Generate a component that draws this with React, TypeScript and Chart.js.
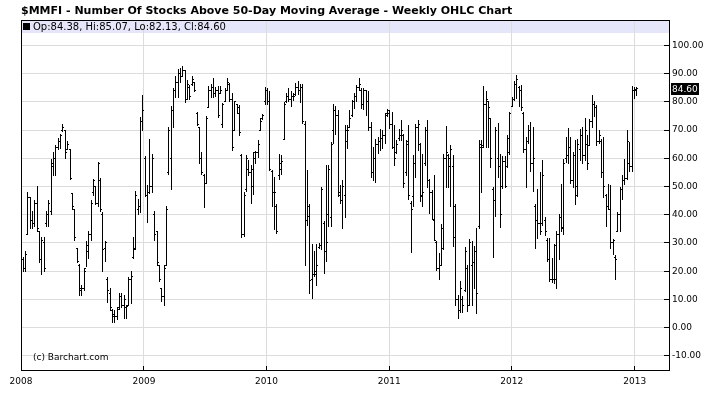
import { useEffect, useRef } from 'react';
import { Chart, registerables } from 'chart.js';

Chart.register(...registerables);

const TITLE = '$MMFI - Number Of Stocks Above 50-Day Moving Average - Weekly OHLC Chart';
const COPYRIGHT = '(c) Barchart.com';
const FIRST_WEEK = { year: 2008, month: 0, day: 7 };
const AXIS_END = { year: 2013, month: 3, day: 13 };
const yearLabels = ['2008', '2009', '2010', '2011', '2012', '2013'];
const yTickValues = [-10, 0, 10, 20, 30, 40, 50, 60, 70, 80, 90, 100];
const Y_MIN = -15;
const Y_MAX = 109;

const opens = [
  24, 21, 33, 46, 38, 37, 44, 34, 24, 30, 37, 40, 41, 58, 60, 64, 66, 70, 70, 63, 63, 47.6, 42, 28, 22, 13, 14, 21, 27, 33, 48, 50, 44,
  52, 40, 28, 17, 12, 6, 4, 4, 7, 11, 8, 7, 8, 17, 25, 28, 42, 43, 73, 60, 47, 48, 50, 40, 33.9, 22.2, 13.9, 11, 22.2, 55, 60, 77, 84, 87,
  90, 89, 91, 81, 85, 86, 87, 76, 71, 60, 54, 51, 78, 84, 85, 83, 84, 83, 72, 80, 84, 86, 81, 70, 79, 78, 61, 33, 49, 56, 55, 50, 60, 62,
  70, 74, 80, 84, 80, 55.5, 48, 43, 54, 58, 66.5, 80, 82, 81, 82, 82.5, 85, 84, 85, 72, 38, 43, 17, 19, 19, 28.5, 29, 37, 27, 40, 39, 70, 77, 75,
  47, 45, 47, 66, 71, 75, 80, 82, 85, 84, 79, 84, 80, 71, 55, 60, 65, 66, 67, 68, 76, 76, 72, 64, 62, 67, 68, 68, 55, 66, 44, 46.6, 58, 71,
  65, 47, 58, 70, 52, 48, 38, 30, 21, 22, 28, 60, 61, 57, 57, 43, 10, 6, 10, 13, 21, 8, 22, 23, 27, 36, 64, 64, 79, 80, 74, 49, 45,
  60, 57, 50, 59, 57, 62, 78.3, 81, 86, 85, 84, 76, 63, 66, 70, 58, 43, 38, 37, 37, 38, 31, 24, 17, 17, 17, 33, 39, 35, 60, 61, 64, 52, 61,
  47, 63, 68, 61, 65, 64.5, 73, 79, 78, 66, 66, 55, 47, 43, 42, 30, 25, 34, 40, 49, 52, 53, 58, 57, 84, 84.38,
];

const highs = [
  25, 27, 48, 46, 41, 45, 50, 34, 32, 32, 41, 45, 59.7, 62, 64.5, 67, 68.5, 72, 70, 66, 63, 47.6, 42, 28, 22.4, 15, 21, 30.5, 34, 45, 52.6, 50, 58.5,
  53, 40.7, 30.5, 17.7, 14, 6.5, 6, 7, 12, 12, 11.5, 8, 17.7, 19.8, 32, 48.4, 45.4, 74.3, 82.3, 60.5, 50.2, 66.6, 61.5, 41, 33.9, 22.2, 13.9, 22.2, 42.8, 71, 78.2, 84.7, 88.9, 91.5,
  91.8, 92.7, 91.2, 87.7, 85.9, 88.9, 87, 76.4, 71, 62, 54.3, 74.8, 85.3, 86, 88.3, 85, 85.3, 85.3, 79.4, 84.7, 88.1, 86.5, 82.9, 80.3, 79.1, 78.8, 61.5, 47.8, 60.9, 59.1, 57.3, 62.1, 62.4, 66.3,
  74, 75.5, 85, 84.7, 83.5, 55.8, 53.2, 43.6, 61.5, 60.9, 79.6, 83.1, 84.7, 83.5, 83, 86.5, 87.1, 86, 86, 73, 55.8, 43.6, 29.3, 27, 29.3, 29.7, 49.8, 37.7, 57.3, 57.3, 65.7, 79.1, 78.2, 77,
  50.5, 52.2, 71.6, 71.6, 76.9, 80.5, 82.9, 85.9, 88.3, 84.7, 84.7, 84.1, 83.5, 72.8, 63.9, 66.8, 67.2, 70.1, 69.8, 75.8, 77.3, 76.8, 76.4, 71.6, 66.3, 70.1, 73.4, 68.6, 66.3, 71.6, 44.8, 60.9, 72, 73.4,
  65.3, 61.3, 71, 73.4, 52.6, 48.6, 53.8, 30.5, 26.4, 36.5, 61.3, 71.2, 61.5, 64.5, 60.9, 43.6, 11.5, 16.3, 10.9, 28.4, 22.2, 31.1, 30.5, 28.8, 35, 66.3, 66.3, 85.5, 83.5, 80.3, 74, 49.8, 71,
  72.2, 61.3, 60.5, 60.5, 68, 76.4, 81.7, 87.1, 89.5, 85.3, 85.9, 76.4, 67.4, 71.6, 72.8, 71, 43.6, 49, 54.9, 59.1, 38.9, 31.7, 31.7, 24.6, 29.3, 34.1, 40.1, 50.8, 59.7, 67.4, 70.4, 67.4, 62.1, 66.3,
  66.8, 70.1, 70.8, 74, 68, 73.6, 82.3, 80.3, 78.8, 69.8, 66.8, 67.4, 47.2, 50.8, 50.5, 31.1, 25.5, 40.7, 49.6, 53.8, 59.7, 69.8, 65.7, 85.5, 85, 85.07,
];

const lows = [
  20, 20, 33, 35, 35, 36, 34, 23, 19, 20, 36, 36, 40, 54, 54, 63, 63.5, 69.5, 60, 63, 52.5, 42, 31, 23, 11.5, 11.5, 13, 21.5, 24.6, 31, 47, 43.6, 43,
  41, 19.8, 23.4, 8.9, 6, 1.7, 2, 3, 6.5, 7.3, 3.2, 3.2, 7.9, 8.5, 24.6, 27.6, 40, 40.7, 69.8, 46.6, 37.1, 47.6, 47.8, 31, 22.2, 16.3, 9.1, 7.9, 22.2, 54.3, 49, 71, 81.7, 81.7,
  87, 88.9, 79.6, 81, 80.9, 85.9, 83.5, 71.6, 58, 54.3, 42.4, 51, 77.9, 81.7, 81.7, 82, 74.3, 82.9, 70.8, 80, 84, 80, 62.9, 70, 75.8, 68, 32, 32.3, 48.4, 53.8, 43.9, 47.2, 58.2, 60.3,
  69.8, 73.6, 79.1, 79, 55.8, 43, 34.7, 33.5, 52.6, 54.1, 66.5, 79.9, 80, 78.3, 80.5, 82.3, 82.7, 79.9, 72.2, 22, 36.3, 12.1, 10.3, 18, 15, 28.2, 27.6, 19.2, 23.4, 35.9, 35.9, 65.3, 68.6, 46.3,
  43.9, 35.1, 39.2, 63.6, 70.8, 74.8, 77.6, 80, 83.9, 77.6, 77.3, 75.2, 69.8, 53.2, 52.2, 51.4, 61.7, 62.9, 63.3, 65.1, 74.8, 70.4, 63.6, 57.3, 61.7, 66.3, 66.3, 49.8, 53.8, 45.4, 26.7, 43, 53.2, 62.7,
  44.8, 43, 57.3, 49.6, 40.3, 38.3, 30.8, 20.1, 16.9, 22, 27.6, 49.6, 49.8, 43, 28.7, 7.9, 3.4, 5.3, 5.5, 12.7, 5.8, 8, 7.9, 13.9, 4.9, 35.3, 47.8, 63.9, 63.9, 63.9, 56.7, 24.8, 39.5,
  53.2, 35.5, 49.3, 49.6, 56.7, 61.3, 78.3, 80.5, 81.1, 78.2, 77, 62.1, 49.6, 65.1, 55.5, 48.4, 27.9, 31.7, 32.9, 36.3, 32.7, 23.4, 16.3, 16, 15.7, 13.9, 24, 34.1, 33.1, 58.5, 58.2, 51, 49.6, 43.6,
  46.6, 59.1, 58.2, 59.1, 56.1, 64.5, 71, 74.8, 64.5, 65.1, 53.2, 46, 35.9, 41.8, 28.2, 25.8, 16.9, 34.1, 34.1, 45.4, 50.8, 52.6, 55.5, 55.5, 81.1, 82.13,
];

const closes = [
  21, 26, 46, 38, 37, 44, 35, 24, 31, 21, 40, 44, 57, 60, 64, 66, 68, 71, 62, 65, 53, 43, 32, 23.5, 14, 14, 20, 29, 33, 44, 52, 44, 58,
  42, 27.6, 30, 13.3, 7, 4.6, 4, 6.5, 11, 8, 10, 7.5, 17, 18, 27.6, 47, 43, 73, 77, 47, 48, 50, 60, 33, 23, 17, 11, 21, 42, 70, 77, 84, 87, 90,
  89, 91, 81, 86, 82, 88, 84, 72, 60, 55, 51, 74, 84, 85, 83, 84, 75, 84, 79, 84, 87, 81, 64, 80, 76, 69, 33, 47, 60, 55, 56, 62, 62, 65,
  73, 75, 84, 80, 56, 48, 48, 34, 56, 59, 79, 82, 81, 82, 82, 85, 84, 85, 73, 38, 39.5, 16.8, 19, 20, 22, 29, 49, 27, 30, 56, 65, 77, 75, 48,
  45, 50, 70, 70, 74, 80, 82, 85, 86, 79, 84, 80, 71, 55, 60, 65, 66, 67, 68, 75, 77, 72, 64, 60, 65, 68, 70, 51, 65, 47, 42, 58, 71, 72,
  46.6, 48, 70, 52, 48, 38.3, 31, 21, 22, 35, 60, 62, 60, 63, 32, 10, 6, 14, 8, 27, 8, 30, 23, 27, 12, 65, 64.5, 79, 81, 78, 60, 45, 70,
  57, 40, 59, 50, 67, 76, 81, 86, 88, 84, 78, 63, 66, 70, 58, 60, 38, 37, 34, 54, 34, 24, 17, 17, 29, 33, 39, 35.5, 58, 61, 64, 52, 61, 50,
  65, 68, 61, 70, 58, 73, 79, 78, 66, 68, 55, 50, 43, 42, 30, 31, 24, 40, 49, 52, 53, 66, 57, 84, 84, 84.6,
];

const DAY_MS = 86400000;
const ORIGIN = Date.UTC(2008, 0, 1);
const dayOf = (y: number, m: number, d: number) => (Date.UTC(y, m, d) - ORIGIN) / DAY_MS;
const weekDays = opens.map((_, i) => dayOf(FIRST_WEEK.year, FIRST_WEEK.month, FIRST_WEEK.day + 7 * i));
const yearDays = yearLabels.map((y) => dayOf(Number(y), 0, 1));
const X_MAX = dayOf(AXIS_END.year, AXIS_END.month, AXIS_END.day);

const fmt = (v: number) => v.toFixed(2);

const ohlcPlugin = {
  id: 'ohlcDraw',
  beforeDraw(chart: any) {
    const { ctx, chartArea: a } = chart;
    ctx.save();
    ctx.fillStyle = '#e6e6fa';
    ctx.fillRect(a.left, a.top, a.right - a.left, 13);
    ctx.restore();
  },
  afterDatasetsDraw(chart: any) {
    const { ctx } = chart;
    const xs = chart.scales.x;
    const ys = chart.scales.y;
    const meta = chart.getDatasetMeta(0);
    ctx.save();
    ctx.fillStyle = '#000';
    for (let i = 0; i < opens.length; i++) {
      const el = meta.data[i];
      const px = Math.round((el ? el.x : xs.getPixelForValue(weekDays[i])) - 0.5);
      const yh = Math.round(ys.getPixelForValue(highs[i]) - 0.5);
      const yl = Math.round(ys.getPixelForValue(lows[i]) - 0.5);
      const yo = Math.round(ys.getPixelForValue(opens[i]) - 0.5);
      const yc = Math.round(ys.getPixelForValue(closes[i]) - 0.5);
      ctx.fillRect(px, yh, 1, Math.max(1, yl - yh + 1));
      ctx.fillRect(px - 1, yo, 1, 1);
      ctx.fillRect(px + 1, yc, 1, 1);
    }
    ctx.restore();
  },
  afterDraw(chart: any) {
    const { ctx, chartArea: a } = chart;
    const xs = chart.scales.x;
    const ys = chart.scales.y;
    ctx.save();
    // frame
    ctx.strokeStyle = '#000';
    ctx.lineWidth = 1;
    ctx.strokeRect(a.left + 0.5, a.top + 0.5, a.right - a.left, a.bottom - a.top);
    ctx.fillStyle = '#000';
    // inner tick marks
    yTickValues.forEach((v) => {
      const py = Math.round(ys.getPixelForValue(v) - 0.5);
      ctx.fillRect(a.right - 5, py, 5, 1);
    });
    yearDays.forEach((d) => {
      const px = Math.round(xs.getPixelForValue(d) - 0.5);
      ctx.fillRect(px, a.bottom - 4, 1, 4);
    });
    // title
    ctx.textAlign = 'left';
    ctx.textBaseline = 'alphabetic';
    ctx.font = 'bold 11px "DejaVu Sans", Verdana, sans-serif';
    ctx.fillText(TITLE, 21, 14);
    // legend
    const last = opens.length - 1;
    ctx.fillRect(a.left + 2, a.top + 3, 7, 7);
    ctx.font = '10px "DejaVu Sans", Verdana, sans-serif';
    const legend = `Op:${fmt(opens[last])}, Hi:${fmt(highs[last])}, Lo:${fmt(lows[last])}, Cl:${fmt(closes[last])}`;
    ctx.fillText(legend, a.left + 12, a.top + 10);
    // copyright
    ctx.font = '9px "DejaVu Sans", Verdana, sans-serif';
    ctx.fillText(COPYRIGHT, a.left + 12, a.bottom - 10);
    // last price box
    const yc = Math.round(ys.getPixelForValue(closes[last]));
    ctx.fillStyle = '#000';
    ctx.fillRect(a.right + 2, yc - 6, 28, 12);
    ctx.fillStyle = '#fff';
    ctx.textBaseline = 'middle';
    ctx.fillText(fmt(closes[last]), a.right + 3, yc + 0.5);
    ctx.restore();
  },
};

export default function App() {
  const ref = useRef<HTMLCanvasElement>(null);
  useEffect(() => {
    const canvas = ref.current;
    if (!canvas) return;
    const chart = new Chart(canvas, {
      type: 'bar',
      data: {
        datasets: [
          {
            data: weekDays.map((d, i) => ({ x: d, y: [lows[i], highs[i]] })) as any,
            backgroundColor: 'rgba(0,0,0,0)',
            borderWidth: 0,
            barThickness: 1,
          },
        ],
      },
      options: {
        responsive: false,
        animation: false,
        devicePixelRatio: 1,
        events: [],
        layout: { padding: { left: 21, top: 20, right: 0, bottom: 0 } },
        plugins: {
          legend: { display: false },
          tooltip: { enabled: false },
          title: { display: false },
        },
        scales: {
          x: {
            type: 'linear',
            min: 0,
            max: X_MAX,
            offset: false,
            afterBuildTicks: (s: any) => {
              s.ticks = yearDays.map((v) => ({ value: v }));
            },
            afterFit: (s: any) => {
              s.height = 23;
            },
            ticks: {
              autoSkip: false,
              maxRotation: 0,
              minRotation: 0,
              padding: 6,
              color: '#000',
              font: { family: '"DejaVu Sans", Verdana, sans-serif', size: 9 },
              callback: (_v: any, i: number) => yearLabels[i],
            },
            grid: { color: '#dcdcdc', drawTicks: false, offset: false },
            border: { display: false },
          },
          y: {
            type: 'linear',
            position: 'right',
            min: Y_MIN,
            max: Y_MAX,
            afterBuildTicks: (s: any) => {
              s.ticks = yTickValues.map((v) => ({ value: v }));
            },
            afterFit: (s: any) => {
              s.width = 53;
            },
            ticks: {
              padding: 3,
              crossAlign: 'near',
              color: '#000',
              font: { family: '"DejaVu Sans", Verdana, sans-serif', size: 9 },
              callback: (v: any) => fmt(Number(v)),
            },
            grid: { color: '#dcdcdc', drawTicks: false },
            border: { display: false },
          },
        },
      },
      plugins: [ohlcPlugin],
    } as any);
    return () => chart.destroy();
  }, []);
  return (
    <div style={{ position: 'fixed', left: 0, top: 0, width: 722, height: 393, background: '#fff' }}>
      <canvas ref={ref} width={722} height={393} style={{ display: 'block', width: 722, height: 393 }} />
    </div>
  );
}
